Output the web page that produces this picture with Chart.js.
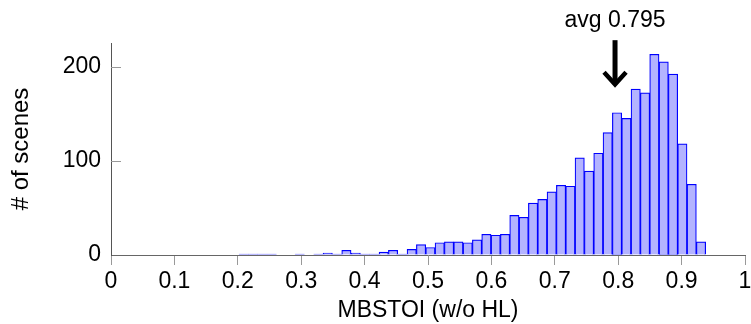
<!DOCTYPE html>
<html>
<head>
<meta charset="utf-8">
<script src="https://cdn.jsdelivr.net/npm/chart.js@4/dist/chart.umd.min.js"></script>
<style>
  body { margin: 0; background: #fff; }
</style>
</head>
<body>
<canvas id="histChart" width="751" height="324"></canvas>
<script>
"use strict"

// MBSTOI histogram, 50 equal bins
const binStart = 0.202;
const binWidth = 0.01472;
const sceneCounts = [1, 1, 1, 1, 0, 0, 1, 0, 1, 2,
  1, 5, 2, 1, 1, 3, 5, 1, 6, 11,
  8, 13, 14, 14, 13, 16, 22, 21, 22, 42,
  40, 55, 59, 67, 74, 73, 103, 89, 108, 130,
  151, 145, 176, 172, 213, 205, 192, 118, 75, 14];

const xTickValues = [0, 0.1, 0.2, 0.3, 0.4, 0.5, 0.6, 0.7, 0.8, 0.9, 1];
const xTickLabels = ['0', '0.1', '0.2', '0.3', '0.4', '0.5', '0.6', '0.7', '0.8', '0.9', '1'];
const yTickValues = [0, 100, 200];
const yTickLabels = ['0', '100', '200'];

// arrow marking the mean
const avgValue = 0.795;
const avgLabel = 'avg 0.795';
const arrowTop = 228;
const arrowTip = 179;
const avgTextAt = 242;

const histData = sceneCounts.map((c, i) => ({ x: binStart + (i + 0.5) * binWidth, y: c }));

Chart.defaults.font.family = "'Liberation Sans', Arial, sans-serif";
Chart.defaults.font.size = 23;
Chart.defaults.color = '#000';

// y ticks point into the plot, and the avg arrow on top
const extrasPlugin = {
  id: 'extras',
  afterDraw(chart) {
    const ctx = chart.ctx;
    const xs = chart.scales.x;
    const ys = chart.scales.y;
    ctx.save();
    ctx.strokeStyle = '#999';
    ctx.lineWidth = 1;
    yTickValues.forEach(v => {
      if (v === 0) return;
      const py = Math.round(ys.getPixelForValue(v)) + 0.5;
      ctx.beginPath();
      ctx.moveTo(xs.left, py);
      ctx.lineTo(xs.left + 10, py);
      ctx.stroke();
    });

    const ax = xs.getPixelForValue(avgValue);
    const yTop = ys.getPixelForValue(arrowTop);
    const yTip = ys.getPixelForValue(arrowTip);
    ctx.strokeStyle = '#000';
    ctx.lineWidth = 5;
    ctx.beginPath();
    ctx.moveTo(ax, yTop);
    ctx.lineTo(ax, yTip - 2);
    ctx.stroke();
    ctx.lineWidth = 4.5;
    ctx.lineJoin = 'miter';
    ctx.beginPath();
    ctx.moveTo(ax - 11, yTip - 14);
    ctx.lineTo(ax, yTip - 2);
    ctx.lineTo(ax + 11, yTip - 14);
    ctx.stroke();

    ctx.fillStyle = '#000';
    ctx.font = "23px 'Liberation Sans', Arial, sans-serif";
    ctx.textAlign = 'center';
    ctx.textBaseline = 'alphabetic';
    ctx.fillText(avgLabel, ax, ys.getPixelForValue(avgTextAt));
    ctx.restore();
  }
};

new Chart(document.getElementById('histChart'), {
  type: 'bar',
  data: {
    datasets: [{
      data: histData,
      backgroundColor: 'rgba(179, 179, 255, 1)',
      borderColor: '#0000ff',
      borderWidth: 1.2,
      barPercentage: 1,
      categoryPercentage: 1
    }]
  },
  options: {
    responsive: false,
    animation: false,
    layout: { padding: { top: 43, right: 0, left: 0, bottom: 0 } },
    plugins: { legend: { display: false }, tooltip: { enabled: false } },
    scales: {
      x: {
        type: 'linear',
        min: 0,
        max: 1,
        offset: false,
        afterBuildTicks: scale => { scale.ticks = xTickValues.map(v => ({ value: v })); },
        afterFit: scale => { scale.height = 69; scale.paddingRight = 6; },
        ticks: {
          autoSkip: false,
          maxRotation: 0,
          padding: 3,
          callback: (v, i) => xTickLabels[i]
        },
        grid: { drawOnChartArea: false, drawTicks: true, tickLength: 10, color: '#999', offset: false },
        border: { color: '#666' },
        title: { display: true, text: 'MBSTOI (w/o HL)', padding: { top: 0, bottom: 0 } }
      },
      y: {
        min: 0,
        max: 225,
        afterBuildTicks: scale => { scale.ticks = yTickValues.map(v => ({ value: v })); },
        afterFit: scale => { scale.width = 111; },
        ticks: {
          padding: 10,
          callback: (v, i) => yTickLabels[i]
        },
        grid: { drawOnChartArea: false, drawTicks: false },
        border: { color: '#555' },
        title: { display: true, text: '# of scenes', font: { size: 24 }, padding: { top: 7, bottom: 0 } }
      }
    }
  },
  plugins: [extrasPlugin]
});
</script>
</body>
</html>
